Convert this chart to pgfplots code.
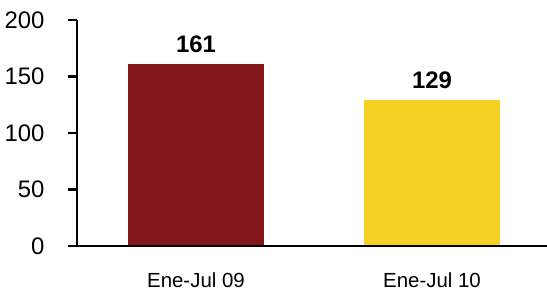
\documentclass[border=0pt]{standalone}
\usepackage{fontspec}
\setmainfont{Liberation Sans}
\usepackage{pgfplots}
\pgfplotsset{compat=1.18}
\definecolor{barred}{RGB}{132,21,26}
\definecolor{baryellow}{RGB}{245,209,36}
\begin{document}
\begin{tikzpicture}
\useasboundingbox (0,0) rectangle (547bp,298bp);
\begin{axis}[
  at={(77bp,52bp)}, anchor=south west,
  scale only axis, width=470bp, height=226bp,
  xmin=-0.504, xmax=1.487, ymin=0, ymax=200,
  axis lines*=left,
  axis line style={draw=none},
  /pgf/number format/assume math mode=true,
  ytick={0,50,100,150,200},
  tick align=outside,
  major tick length=9bp,
  tick style={line width=2.4bp, black},
  yticklabel style={font=\fontsize{24}{24}\selectfont, anchor=east, xshift=-20bp},
  xtick={0,1},
  xticklabels={Ene-Jul 09, Ene-Jul 10},
  xtick style={draw=none},
  xticklabel style={font=\fontsize{20.5}{20.5}\selectfont, yshift=-14bp},
  extra x ticks={0.5},
  extra x tick labels={},
  extra x tick style={tick style={draw=black, line width=1.5bp}, major tick length=5bp},
  ybar, bar width=136bp, bar shift=0pt,
  nodes near coords,
  every node near coord/.append style={font=\bfseries\fontsize{24}{24}\selectfont, anchor=base, yshift=12bp},
  clip=false,
]
\addplot[draw=none, fill=barred] coordinates {(0,161)};
\addplot[draw=none, fill=baryellow] coordinates {(1,129)};
\draw[line width=2.8bp, black] (axis cs:-0.504,200) -- (axis cs:-0.504,0) -- (axis cs:1.487,0);
\end{axis}
\end{tikzpicture}
\end{document}
